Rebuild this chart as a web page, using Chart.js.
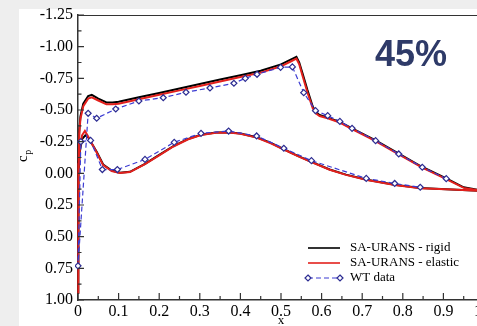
<!DOCTYPE html>
<html>
<head>
<meta charset="utf-8">
<script src="https://cdn.jsdelivr.net/npm/chart.js@4.4.1/dist/chart.umd.min.js"></script>
<style>
  html, body { margin:0; padding:0; width:477px; height:326px; overflow:hidden; background:#eeeeee; }
  #panel { position:absolute; left:19px; top:9px; right:0; bottom:0; background:#fff; }
  #wrap  { position:absolute; left:0; top:0; width:500px; height:326px; }
  #pct   { position:absolute; left:375px; top:35.5px; font:bold 36px "Liberation Sans", Arial, sans-serif;
           line-height:36px; color:#2e3a68; }
</style>
</head>
<body>
<div id="panel"></div>
<div id="wrap"><canvas id="cpChart" width="500" height="326"></canvas></div>
<div id="pct">45%</div>
<script>
// chordwise pressure coefficient, upper surface TE -> LE -> lower surface TE
const rigidX = [1.0,0.95,0.907,0.848,0.79,0.733,0.675,0.645,0.615,0.595,0.585,0.578,0.565,0.553,0.545,0.538,0.525,0.5,0.45,0.4,0.35,0.3,0.25,0.2,0.15,0.1,0.085,0.07,0.05,0.034,0.025,0.013,0.006,0.003,0.0015,0.0005,0,
  0.0005,0.002,0.005,0.01,0.018,0.025,0.035,0.046,0.062,0.083,0.103,0.128,0.165,0.2,0.235,0.27,0.303,0.34,0.371,0.4,0.44,0.475,0.507,0.54,0.575,0.62,0.66,0.712,0.78,0.843,0.92,1.0];
const rigidCp = [0.14,0.11,0.04,-0.05,-0.155,-0.26,-0.355,-0.405,-0.44,-0.46,-0.485,-0.53,-0.66,-0.79,-0.875,-0.92,-0.9,-0.86,-0.81,-0.775,-0.74,-0.705,-0.67,-0.635,-0.6,-0.565,-0.56,-0.56,-0.59,-0.62,-0.61,-0.55,-0.45,-0.33,-0.1,0.4,0.95,
  0.3,0.0,-0.18,-0.27,-0.3,-0.285,-0.23,-0.17,-0.07,-0.022,-0.005,-0.012,-0.075,-0.145,-0.215,-0.27,-0.305,-0.322,-0.325,-0.315,-0.285,-0.24,-0.19,-0.14,-0.09,-0.03,0.01,0.05,0.09,0.115,0.127,0.14];

const elasticX = [1.0,0.95,0.907,0.848,0.79,0.733,0.675,0.645,0.615,0.595,0.585,0.578,0.565,0.553,0.545,0.538,0.525,0.5,0.45,0.4,0.35,0.3,0.25,0.2,0.15,0.1,0.085,0.07,0.05,0.034,0.025,0.013,0.006,0.003,0.0015,0.0005,0,
  0.0005,0.002,0.005,0.01,0.017,0.025,0.035,0.046,0.062,0.083,0.103,0.128,0.165,0.2,0.235,0.27,0.303,0.34,0.371,0.4,0.44,0.475,0.507,0.54,0.575,0.62,0.66,0.712,0.78,0.843,0.92,1.0];
const elasticCp = [0.14,0.115,0.045,-0.045,-0.15,-0.255,-0.35,-0.4,-0.435,-0.452,-0.475,-0.515,-0.64,-0.77,-0.86,-0.905,-0.885,-0.845,-0.795,-0.76,-0.725,-0.69,-0.655,-0.62,-0.585,-0.55,-0.545,-0.545,-0.575,-0.6,-0.59,-0.53,-0.43,-0.31,-0.08,0.4,0.95,
  0.3,0.0,-0.2,-0.3,-0.335,-0.29,-0.23,-0.165,-0.065,-0.018,-0.002,-0.01,-0.072,-0.142,-0.212,-0.267,-0.302,-0.32,-0.322,-0.312,-0.282,-0.237,-0.188,-0.138,-0.088,-0.028,0.012,0.052,0.092,0.117,0.128,0.14];

const wtX = [0.907,0.848,0.79,0.733,0.675,0.645,0.615,0.585,0.556,0.528,0.499,0.441,0.412,0.384,0.325,0.266,0.21,0.15,0.093,0.046,0.025,0,
  0.007,0.031,0.06,0.097,0.165,0.237,0.303,0.371,0.44,0.507,0.575,0.71,0.78,0.843];
const wtCp = [0.042,-0.048,-0.153,-0.258,-0.355,-0.41,-0.455,-0.495,-0.637,-0.84,-0.837,-0.782,-0.75,-0.711,-0.674,-0.64,-0.597,-0.571,-0.508,-0.435,-0.474,0.73,
  -0.25,-0.26,-0.03,-0.03,-0.11,-0.245,-0.316,-0.334,-0.295,-0.198,-0.10,0.04,0.08,0.11];

const xTicks = [0,0.1,0.2,0.3,0.4,0.5,0.6,0.7,0.8,0.9,1.0];
const yTicks = [-1.25,-1.0,-0.75,-0.5,-0.25,0,0.25,0.5,0.75,1.0];

const SERIF = '"Liberation Serif", "DejaVu Serif", serif';
const AXIS = '#333';
const WT_LINE = '#3c3cd2', WT_MARK = '#2c2c92';

const pts = (xs, ys) => xs.map((v, i) => ({ x: v, y: ys[i] }));

const series = [
  { label:'SA-URANS - rigid',   data:pts(rigidX, rigidCp),     color:'#000000', dash:[],    marker:false },
  { label:'SA-URANS - elastic', data:pts(elasticX, elasticCp), color:'#e3201c', dash:[],    marker:false },
  { label:'WT data',            data:pts(wtX, wtCp),           color:WT_LINE,   dash:[5,3], marker:true }
];

// inward ticks, top frame line, c_p title and the in-plot legend
const frameDecor = {
  id:'frameDecor',
  afterDraw(chart) {
    const { ctx, chartArea:a, scales:{ x, y } } = chart;
    ctx.save();
    ctx.strokeStyle = AXIS;
    ctx.lineWidth = 1.2;
    ctx.beginPath();
    ctx.moveTo(a.left, a.top + 0.5); ctx.lineTo(a.right, a.top + 0.5);
    xTicks.forEach((v, i) => {
      let px = x.getPixelForValue(v);
      ctx.moveTo(px, a.bottom); ctx.lineTo(px, a.bottom - 7);
      if (i < xTicks.length - 1) {
        px = x.getPixelForValue(v + 0.05);
        ctx.moveTo(px, a.bottom); ctx.lineTo(px, a.bottom - 4);
      }
    });
    yTicks.forEach((v, i) => {
      let py = y.getPixelForValue(v);
      ctx.moveTo(a.left, py); ctx.lineTo(a.left + 6, py);
      if (i < yTicks.length - 1) {
        py = y.getPixelForValue(v + 0.125);
        ctx.moveTo(a.left, py); ctx.lineTo(a.left + 3.5, py);
      }
    });
    ctx.stroke();

    // y axis title: c with subscript p
    ctx.fillStyle = '#000';
    ctx.translate(27, 162);
    ctx.rotate(-Math.PI / 2);
    ctx.font = '15px ' + SERIF;
    ctx.textBaseline = 'alphabetic';
    ctx.fillText('c', 0, 0);
    const cw = ctx.measureText('c').width;
    ctx.font = '10px ' + SERIF;
    ctx.fillText('p', cw + 0.5, 3.5);
    ctx.setTransform(1, 0, 0, 1, 0, 0);

    // legend
    ctx.font = '13px ' + SERIF;
    ctx.textBaseline = 'middle';
    series.forEach((s, i) => {
      const ly = 248 + i * 15;
      ctx.strokeStyle = s.color;
      ctx.lineWidth = s.marker ? 1.2 : 1.6;
      ctx.setLineDash(s.dash);
      ctx.beginPath(); ctx.moveTo(308, ly); ctx.lineTo(340, ly); ctx.stroke();
      ctx.setLineDash([]);
      if (s.marker) {
        [308, 340].forEach(mx => {
          ctx.beginPath();
          ctx.moveTo(mx, ly - 3); ctx.lineTo(mx + 3, ly); ctx.lineTo(mx, ly + 3); ctx.lineTo(mx - 3, ly); ctx.closePath();
          ctx.fillStyle = '#fff'; ctx.fill();
          ctx.strokeStyle = WT_MARK; ctx.lineWidth = 1.2; ctx.stroke();
        });
      }
      ctx.fillStyle = '#000';
      ctx.fillText(s.label, 350, ly);
    });
    ctx.restore();
  }
};

new Chart(document.getElementById('cpChart').getContext('2d'), {
  type: 'scatter',
  data: {
    datasets: series.map((s, i) => ({
      label: s.label,
      data: s.data,
      showLine: true,
      borderColor: s.color,
      borderWidth: s.marker ? 1.2 : 2,
      borderDash: s.dash,
      pointRadius: s.marker ? 3 : 0,
      pointStyle: 'rectRot',
      pointBackgroundColor: '#fff',
      pointBorderColor: WT_MARK,
      pointBorderWidth: 1.2,
      tension: 0,
      clip: 3,
      order: 3 - i
    }))
  },
  options: {
    responsive: false,
    animation: false,
    devicePixelRatio: 1,
    layout: { padding: { left:0, top:15, right:16, bottom:0 } },
    plugins: { legend:{ display:false }, tooltip:{ enabled:false } },
    scales: {
      x: {
        type:'linear', min:0, max:1,
        afterBuildTicks: s => { s.ticks = xTicks.map(v => ({ value:v })); },
        ticks: { color:'#000', padding:2, maxRotation:0, autoSkip:false,
                 font:{ family:SERIF, size:16 },
                 callback: v => v === 0 ? '0' : v.toFixed(1) },
        grid: { display:false, drawTicks:false },
        border: { color:AXIS, width:1.5 },
        title: { display:true, text:'x', color:'#000', font:{ family:SERIF, size:13 }, padding:{ top:0, bottom:-2 } },
        afterFit: s => { s.height = 26; }
      },
      y: {
        type:'linear', reverse:true, min:-1.25, max:1.0,
        afterBuildTicks: s => { s.ticks = yTicks.map(v => ({ value:v })); },
        ticks: { color:'#000', padding:5, autoSkip:false,
                 font:{ family:SERIF, size:16 },
                 callback: v => v.toFixed(2) },
        grid: { display:false, drawTicks:false },
        border: { color:AXIS, width:1.5 },
        afterFit: s => { s.width = 78; }
      }
    }
  },
  plugins: [frameDecor]
});
</script>
</body>
</html>
